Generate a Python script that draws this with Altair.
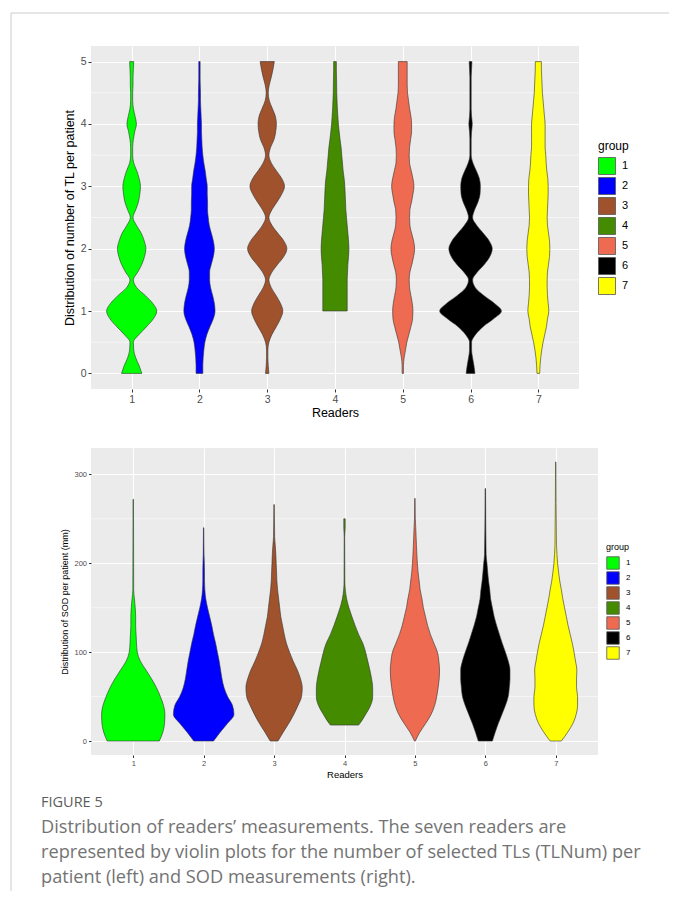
import altair as alt
import pandas as pd

READERS = ["1", "2", "3", "4", "5", "6", "7"]
COLORS = ["#00FF00", "#0000FF", "#A0522D", "#458B00", "#EE6A50", "#000000", "#FFFF00"]

# ---- Panel 1: number of TL per patient (violin half-widths, reader units) ----
TL_LEVELS = [0, 0.125, 0.25, 0.375, 0.5, 0.625, 0.75, 0.875,
             1, 1.125, 1.25, 1.375, 1.5, 1.625, 1.75, 1.875,
             2, 2.125, 2.25, 2.375, 2.5, 2.625, 2.75, 2.875,
             3, 3.125, 3.25, 3.375, 3.5, 3.625, 3.75, 3.875,
             4, 4.125, 4.25, 4.375, 4.5, 4.625, 4.75, 4.875, 5]
TL_START = {"1": 0, "2": 0, "3": 0, "4": 1, "5": 0, "6": 0, "7": 0}
TL_WIDTHS = {
    "1": [0.15, 0.11, 0.06, 0.03, 0.025, 0.11, 0.22, 0.32, 0.37, 0.31, 0.2, 0.075, 0.025, 0.09,
          0.15, 0.19, 0.21, 0.185, 0.14, 0.07, 0.02, 0.06, 0.1, 0.12, 0.13, 0.11, 0.075, 0.03,
          0.015, 0.015, 0.025, 0.045, 0.07, 0.05, 0.025, 0.015, 0.015, 0.02, 0.02, 0.025, 0.03],
    "2": [0.05, 0.05, 0.055, 0.065, 0.08, 0.11, 0.155, 0.205, 0.23, 0.22, 0.195, 0.165, 0.15,
          0.15, 0.175, 0.205, 0.22, 0.205, 0.175, 0.145, 0.13, 0.12, 0.12, 0.115, 0.115, 0.1,
          0.085, 0.065, 0.05, 0.04, 0.035, 0.03, 0.03, 0.025, 0.02, 0.015, 0.015, 0.012, 0.01,
          0.01, 0.01],
    "3": [0.025, 0.015, 0.01, 0.01, 0.025, 0.07, 0.135, 0.195, 0.23, 0.195, 0.13, 0.06, 0.025,
          0.07, 0.155, 0.245, 0.29, 0.245, 0.155, 0.07, 0.025, 0.07, 0.145, 0.215, 0.255, 0.215,
          0.135, 0.06, 0.025, 0.05, 0.1, 0.125, 0.135, 0.12, 0.075, 0.03, 0.015, 0.03, 0.06,
          0.085, 0.105],
    "4": [0.18, 0.18, 0.18, 0.18, 0.18, 0.185, 0.19, 0.2, 0.205, 0.2, 0.19, 0.18, 0.17, 0.16,
          0.155, 0.15, 0.145, 0.135, 0.12, 0.11, 0.1, 0.09, 0.075, 0.062, 0.05, 0.042, 0.035,
          0.03, 0.026, 0.024, 0.022, 0.02, 0.02],
    "5": [0.01, 0.01, 0.02, 0.04, 0.06, 0.09, 0.12, 0.145, 0.15, 0.14, 0.12, 0.1, 0.095, 0.105,
          0.135, 0.16, 0.175, 0.16, 0.13, 0.105, 0.1, 0.105, 0.13, 0.15, 0.165, 0.15, 0.125, 0.1,
          0.095, 0.1, 0.115, 0.13, 0.13, 0.12, 0.1, 0.085, 0.07, 0.065, 0.065, 0.065, 0.065],
    "6": [0.065, 0.05, 0.03, 0.015, 0.015, 0.075, 0.185, 0.34, 0.455, 0.35, 0.195, 0.07, 0.03,
          0.1, 0.205, 0.285, 0.32, 0.275, 0.185, 0.09, 0.03, 0.06, 0.11, 0.14, 0.145, 0.13, 0.085,
          0.035, 0.01, 0.01, 0.01, 0.015, 0.025, 0.015, 0.01, 0.01, 0.01, 0.01, 0.01, 0.015, 0.02],
    "7": [0.02, 0.025, 0.035, 0.05, 0.07, 0.095, 0.12, 0.135, 0.155, 0.145, 0.135, 0.13, 0.13,
          0.135, 0.15, 0.165, 0.17, 0.165, 0.15, 0.135, 0.13, 0.135, 0.14, 0.145, 0.145, 0.14,
          0.125, 0.115, 0.11, 0.1, 0.1, 0.1, 0.1, 0.09, 0.08, 0.07, 0.06, 0.055, 0.05, 0.045,
          0.045],
}

# ---- Panel 2: SOD per patient (mm) ----
SOD_LEVELS = {
    "1": [0, 10, 20, 30, 40, 50, 60, 70, 80, 90, 100, 110, 120, 130, 140, 150, 160, 170, 272],
    "2": [0, 10, 20, 30, 40, 50, 60, 70, 80, 90, 100, 110, 120, 130, 140, 150, 160, 170, 180,
          190, 200, 210, 240],
    "3": [0, 10, 20, 30, 40, 50, 60, 70, 80, 90, 100, 110, 120, 130, 140, 150, 160, 170, 180,
          190, 200, 210, 220, 230, 266],
    "4": [18, 20, 30, 40, 50, 60, 70, 80, 90, 100, 110, 120, 130, 140, 150, 160, 170, 180, 230,
          240, 250],
    "5": [0, 10, 20, 30, 40, 50, 60, 70, 80, 90, 100, 110, 120, 130, 140, 150, 160, 170, 180,
          190, 200, 210, 220, 230, 240, 250, 273],
    "6": [0, 10, 20, 30, 40, 50, 60, 70, 80, 90, 100, 110, 120, 130, 140, 150, 160, 170, 180,
          190, 200, 210, 284],
    "7": [0, 10, 20, 30, 40, 50, 60, 70, 80, 90, 100, 110, 120, 130, 140, 150, 160, 170, 180,
          190, 200, 210, 220, 314],
}
SOD_WIDTHS = {
    "1": [0.37, 0.42, 0.445, 0.45, 0.43, 0.385, 0.33, 0.26, 0.18, 0.1, 0.057, 0.046, 0.04,
          0.034, 0.034, 0.028, 0.017, 0.006, 0.003],
    "2": [0.14, 0.235, 0.34, 0.43, 0.41, 0.34, 0.29, 0.26, 0.24, 0.22, 0.195, 0.17, 0.14, 0.115,
          0.085, 0.055, 0.03, 0.017, 0.012, 0.012, 0.01, 0.006, 0.003],
    "3": [0.055, 0.13, 0.21, 0.28, 0.34, 0.39, 0.40, 0.375, 0.33, 0.27, 0.22, 0.175, 0.145,
          0.12, 0.095, 0.08, 0.065, 0.05, 0.04, 0.035, 0.03, 0.025, 0.017, 0.008, 0.003],
    "4": [0.2, 0.22, 0.3, 0.37, 0.4, 0.4, 0.385, 0.36, 0.33, 0.3, 0.26, 0.2, 0.15, 0.105, 0.063,
          0.03, 0.012, 0.006, 0.004, 0.01, 0.01],
    "5": [0.006, 0.07, 0.155, 0.23, 0.28, 0.31, 0.33, 0.345, 0.35, 0.34, 0.32, 0.27, 0.22, 0.18,
          0.15, 0.12, 0.1, 0.075, 0.06, 0.045, 0.035, 0.028, 0.022, 0.017, 0.012, 0.006, 0.003],
    "6": [0.1, 0.14, 0.185, 0.235, 0.285, 0.325, 0.34, 0.35, 0.35, 0.325, 0.285, 0.24, 0.2,
          0.16, 0.125, 0.1, 0.075, 0.063, 0.046, 0.034, 0.023, 0.011, 0.003],
    "7": [0.08, 0.17, 0.245, 0.29, 0.31, 0.31, 0.295, 0.295, 0.3, 0.28, 0.26, 0.235, 0.205,
          0.175, 0.15, 0.125, 0.1, 0.08, 0.057, 0.04, 0.026, 0.017, 0.011, 0.003],
}

TL_TICKS = [0, 1, 2, 3, 4, 5]
TL_MINOR = [0.5, 1.5, 2.5, 3.5, 4.5]
SOD_TICKS = [0, 100, 200, 300]
SOD_MINOR = [50, 150, 250]

CAPTION_LABEL = "FIGURE 5"
CAPTION_LINES = [
    "Distribution of readers’ measurements. The seven readers are",
    "represented by violin plots for the number of selected TLs (TLNum) per",
    "patient (left) and SOD measurements (right).",
]

FONT = "Liberation Sans"


def tl_frame():
    rows = []
    for g in READERS:
        levels = [v for v in TL_LEVELS if v >= TL_START[g]]
        for y, w in zip(levels, TL_WIDTHS[g]):
            rows.append({"reader": int(g), "group": g, "y": y, "w": w})
    return pd.DataFrame(rows)


def sod_frame():
    rows = []
    for g in READERS:
        for y, w in zip(SOD_LEVELS[g], SOD_WIDTHS[g]):
            rows.append({"reader": int(g), "group": g, "y": y, "w": w})
    return pd.DataFrame(rows)


def panel(df, width, height, ydomain, yticks, yminor, ytitle, s):
    yenc = alt.Y(
        "y:Q",
        scale=alt.Scale(domain=ydomain, nice=False, zero=False),
        axis=alt.Axis(
            values=yticks, format="d", title=ytitle, grid=True, gridColor="white",
            gridWidth=1.1, domain=False, tickColor="#333333", tickSize=s["tick"], tickWidth=1,
            labelFont=FONT, labelFontSize=s["lab"], labelColor="#4D4D4D", labelPadding=2,
            titleFont=FONT, titleFontSize=s["tit"], titleFontWeight="normal",
            titleColor="#000000", titlePadding=4,
        ),
    )
    xenc = alt.X(
        "lo:Q",
        stack=None,
        scale=alt.Scale(domain=[0.4, 7.6], nice=False, zero=False),
        axis=alt.Axis(
            values=[1, 2, 3, 4, 5, 6, 7], format="d", title="Readers", grid=True,
            gridColor="white", gridWidth=1.1, domain=False, tickColor="#333333",
            tickSize=s["tick"], tickWidth=1, labelFont=FONT, labelFontSize=s["lab"],
            labelColor="#4D4D4D", labelPadding=2, titleFont=FONT, titleFontSize=s["xtit"],
            titleFontWeight="normal", titleColor="#000000", titlePadding=2,
        ),
    )
    minor = alt.Chart(pd.DataFrame({"y": yminor})).mark_rule(
        color="white", strokeWidth=0.55
    ).encode(y=alt.Y("y:Q", scale=alt.Scale(domain=ydomain, nice=False, zero=False)))
    areas = alt.Chart(df).transform_calculate(
        lo="datum.reader - datum.w", hi="datum.reader + datum.w"
    ).mark_area(
        orient="horizontal", interpolate="monotone", stroke="#333333", strokeWidth=0.6,
        opacity=1, fillOpacity=1,
    ).encode(
        y=yenc,
        x=xenc,
        x2="hi:Q",
        color=alt.Color(
            "group:N",
            scale=alt.Scale(domain=READERS, range=COLORS),
            legend=alt.Legend(
                title="group", orient="none", legendX=s["lx"], legendY=s["ly"],
                symbolType="square", symbolSize=s["sym"], symbolStrokeColor="#555555",
                symbolStrokeWidth=0.8, symbolOpacity=1, rowPadding=s["rowpad"],
                titleFont=FONT, titleFontSize=s["ltit"], titleFontWeight="normal",
                titleColor="#000000", titlePadding=4, labelFont=FONT,
                labelFontSize=s["llab"], labelColor="#000000", labelOffset=6, padding=0,
            ),
        ),
    )
    return alt.layer(minor, areas).properties(
        width=width, height=height, view=alt.ViewBackground(fill="#EBEBEB", stroke=None)
    )


p1 = panel(
    tl_frame(), 488, 343, [-0.25, 5.25], TL_TICKS, TL_MINOR,
    "Distribution of number of TL per patient",
    {"tick": 3, "lab": 10.5, "tit": 12.5, "xtit": 12.5, "lx": 507, "ly": 95,
     "sym": 289, "rowpad": -4, "ltit": 12, "llab": 11},
)
p2 = panel(
    sod_frame(), 507, 307, [-15.7, 329.7], SOD_TICKS, SOD_MINOR,
    "Distribution of SOD per patient (mm)",
    {"tick": 2.5, "lab": 7.5, "tit": 9, "xtit": 9.5, "lx": 515, "ly": 95,
     "sym": 156, "rowpad": -6, "ltit": 9, "llab": 8},
)

cap_df = pd.DataFrame({
    "i": [0, 1, 2, 3],
    "text": [CAPTION_LABEL] + CAPTION_LINES,
    "kind": ["label", "body", "body", "body"],
})
cap_y = alt.Y("i:Q", scale=alt.Scale(domain=[0, 3], range=[-11, 64]), axis=None)
cap_label = alt.Chart(cap_df).transform_filter("datum.kind == 'label'").mark_text(
    align="left", baseline="middle", font="Open Sans", fontSize=14.5, color="#5c5c5c"
).encode(x=alt.value(-50), y=cap_y, text="text:N")
cap_body = alt.Chart(cap_df).transform_filter("datum.kind == 'body'").mark_text(
    align="left", baseline="middle", font="Open Sans", fontSize=18.2, color="#737373"
).encode(x=alt.value(-50), y=cap_y, text="text:N")
frame_df = pd.DataFrame({"k": [0]})
frame_top = alt.Chart(frame_df).mark_rule(color="#cccccc", strokeWidth=1).encode(
    x=alt.value(-80), x2=alt.value(578), y=alt.value(-801)
)
frame_left = alt.Chart(frame_df).mark_rule(color="#cccccc", strokeWidth=1).encode(
    x=alt.value(-80), y=alt.value(-801), y2=alt.value(77)
)
caption = alt.layer(frame_top, frame_left, cap_label, cap_body).properties(
    width=560, height=60, view=alt.ViewBackground(fill=None, stroke=None)
)

chart = alt.vconcat(p1, p2, caption, spacing=59, bounds="flush").resolve_scale(
    color="independent"
).properties(
    padding={"left": 2, "top": 4, "right": 0, "bottom": 0},
    background="white",
)

chart.save("out.html", embed_options={"renderer": "svg", "actions": False})
